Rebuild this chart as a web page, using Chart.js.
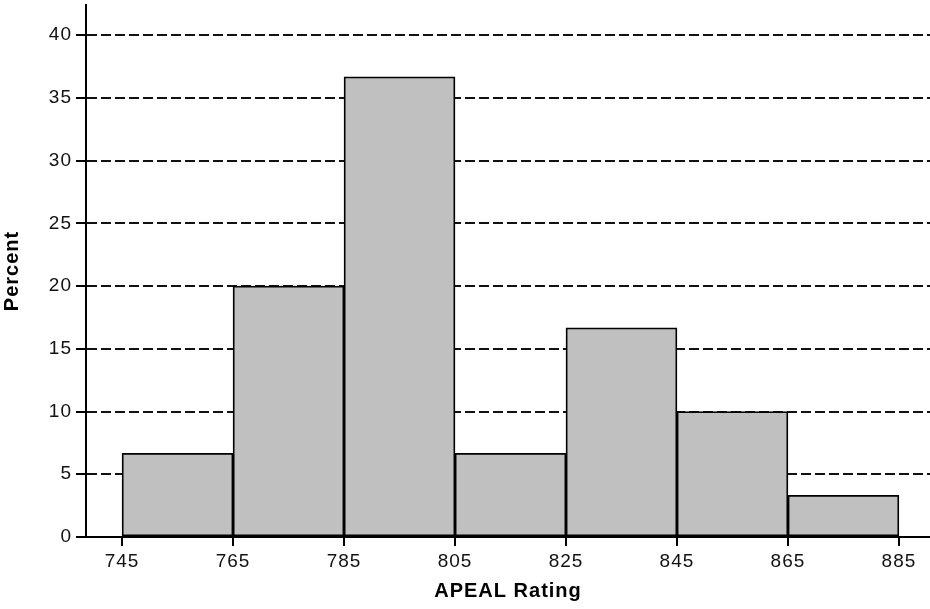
<!DOCTYPE html>
<html lang="en">
<head>
    <meta charset="UTF-8">
    <title>APEAL Rating</title>
    <script src="https://cdn.jsdelivr.net/npm/chart.js"></script>
    <style>
        html, body { margin: 0; padding: 0; background: #fff; }
        #wrap { width: 930px; height: 609px; }
    </style>
</head>
<body>
<div id="wrap"><canvas id="histChart"></canvas></div>
<script>
    // histogram bins (left edges) and percent per bin
    const binEdges = [745, 765, 785, 805, 825, 845, 865, 885];
    const binWidth = 20;
    const percents = [6.67, 20, 36.67, 6.67, 16.67, 10, 3.33];
    const yTicks = [0, 5, 10, 15, 20, 25, 30, 35, 40];

    const points = percents.map((p, i) => ({ x: binEdges[i] + binWidth / 2, y: p }));

    const font = { family: "'Liberation Sans', Arial, sans-serif", size: 19 };
    const titleFont = { family: font.family, size: 20, weight: 'bold' };

    const spacing = {
        id: 'spacing',
        beforeDraw(chart) { chart.ctx.letterSpacing = '1px'; }
    };

    new Chart(document.getElementById('histChart'), {
        type: 'bar',
        data: {
            datasets: [{
                data: points,
                backgroundColor: '#c0c0c0',
                borderColor: '#000',
                borderWidth: 1.8,
                borderSkipped: false,
                barPercentage: 1,
                categoryPercentage: 1
            }]
        },
        options: {
            responsive: true,
            maintainAspectRatio: false,
            animation: false,
            layout: { padding: { top: 5, left: 0, right: 0, bottom: 0 } },
            plugins: { legend: { display: false }, tooltip: { enabled: false } },
            scales: {
                x: {
                    type: 'linear',
                    offset: false,
                    min: 738.5,
                    max: 890.6,
                    afterBuildTicks: s => { s.ticks = binEdges.map(v => ({ value: v })); },
                    afterFit: s => { s.height = 72; s.paddingLeft = 0; s.paddingRight = 0; },
                    border: { color: '#000', width: 2 },
                    grid: { offset: false, drawOnChartArea: false, color: '#000', lineWidth: 2, tickLength: 9 },
                    ticks: { color: '#111', font, padding: 4, maxRotation: 0 },
                    title: {
                        display: true, text: 'APEAL Rating', color: '#000',
                        font: titleFont,
                        padding: { top: 0, bottom: 6 }
                    }
                },
                y: {
                    min: 0,
                    max: 42.4,
                    afterBuildTicks: s => { s.ticks = yTicks.map(v => ({ value: v })); },
                    afterFit: s => { s.width = 86; s.paddingTop = 0; s.paddingBottom = 0; },
                    border: { color: '#000', width: 2, dash: [10, 4] },
                    grid: {
                        color: '#111', lineWidth: 2,
                        tickLength: 10, tickBorderDash: [], tickColor: '#000', tickWidth: 2
                    },
                    ticks: { color: '#111', font, padding: 4 },
                    title: {
                        display: true, text: 'Percent', color: '#000',
                        font: titleFont,
                        padding: { top: 0, bottom: 0 }
                    }
                }
            }
        },
        plugins: [spacing]
    });
</script>
</body>
</html>
